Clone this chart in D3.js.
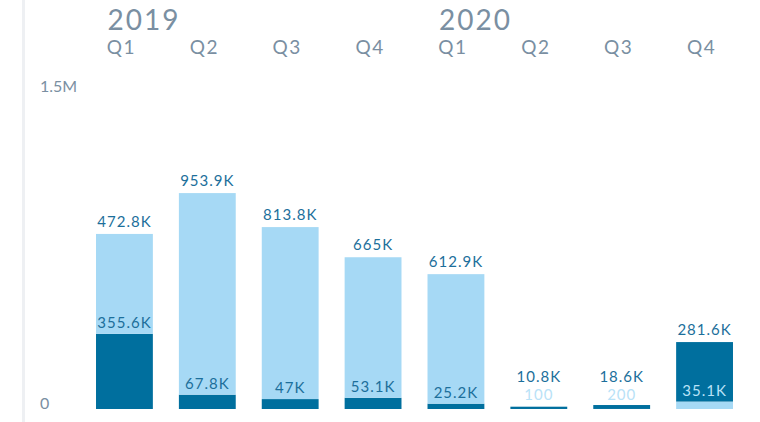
<!DOCTYPE html>
<html>
<head>
<meta charset="utf-8">
<script src="https://cdn.jsdelivr.net/npm/d3@7"></script>
<style>
  body { margin: 0; background: #fff; }
  svg { font-family: "Lato", "Open Sans", sans-serif; }
</style>
</head>
<body>
<div id="chart"></div>
<script>
// 데이터
const years = ["2019", "2020"];
const quarters = ["Q1", "Q2", "Q3", "Q4"];
const periods = ["2019-Q1", "2019-Q2", "2019-Q3", "2019-Q4", "2020-Q1", "2020-Q2", "2020-Q3", "2020-Q4"];
const darkValues = [355600, 67800, 47000, 53100, 25200, 10800, 18600, 281600];
const lightValues = [472800, 953900, 813800, 665000, 612900, 100, 200, 35100];
const yTicks = [0, 1500000];
const yTickLabels = ["0", "1.5M"];

const width = 760, height = 422;
const darkColor = "#006f9e", lightColor = "#a6d9f5";
const textDark = "#1c6f9b", axisGray = "#7a8fa2";

const svg = d3.select("#chart").append("svg")
  .attr("width", width)
  .attr("height", height);

const x = d3.scaleBand().domain(periods).range([83, 746])
  .paddingInner(0.314).paddingOuter(0.157);
const y = d3.scaleLinear().domain([0, 1500000]).range([409, 92]);

const fmt = v => v >= 1000 ? d3.format(".4~s")(v).replace("k", "K") : String(v);

// 왼쪽 세로선
svg.append("line")
  .attr("x1", 23.5).attr("x2", 23.5)
  .attr("y1", 0).attr("y2", height)
  .attr("stroke", "#eef0f3").attr("stroke-width", 3);

// y축 라벨
svg.selectAll(".ytick")
  .data(yTicks)
  .enter().append("text")
  .attr("x", 40)
  .attr("y", d => y(d))
  .attr("font-size", "16px")
  .attr("fill", axisGray)
  .text((d, i) => yTickLabels[i]);

// 분기별 데이터 (작은 값이 아래)
const data = periods.map((p, i) => {
  const segs = [
    { value: darkValues[i], color: darkColor },
    { value: lightValues[i], color: lightColor }
  ].sort((a, b) => a.value - b.value);
  return { period: p, year: p.slice(0, 4), quarter: p.slice(5), segs };
});

data.forEach(d => {
  const x0 = x(d.period), bw = x.bandwidth();
  let acc = 0;
  d.segs.forEach(s => { s.y0 = acc; acc += s.value; s.y1 = acc; });

  const g = svg.append("g");
  g.selectAll("rect")
    .data(d.segs)
    .enter().append("rect")
    .attr("x", x0)
    .attr("width", bw)
    .attr("y", s => y(s.y1))
    .attr("height", s => y(s.y0) - y(s.y1))
    .attr("fill", s => s.color);

  const low = d.segs[0], high = d.segs[1];
  const lowY = Math.min(y(low.y1) - 6, 400);
  const highY = Math.min(y(high.y1) - 7, lowY - 18);

  g.append("text")
    .attr("x", x0 + bw / 2).attr("y", lowY)
    .attr("text-anchor", "middle")
    .attr("font-size", "15px")
    .attr("letter-spacing", "1px")
    .attr("fill", low.color === darkColor ? textDark : "#b9e2f7")
    .text(fmt(low.value));

  g.append("text")
    .attr("x", x0 + bw / 2).attr("y", highY)
    .attr("text-anchor", "middle")
    .attr("font-size", "15px")
    .attr("letter-spacing", "1px")
    .attr("fill", textDark)
    .text(fmt(high.value));

  // 분기 라벨
  svg.append("text")
    .attr("x", x0 + bw / 2 - 3).attr("y", 54)
    .attr("text-anchor", "middle")
    .attr("font-size", "19px")
    .attr("letter-spacing", "1.5px")
    .attr("fill", axisGray)
    .text(d.quarter);
});

// 연도 라벨
svg.selectAll(".year")
  .data(years)
  .enter().append("text")
  .attr("x", yr => x(yr + "-Q1") + x.bandwidth() / 2 - 17)
  .attr("y", 30)
  .attr("font-size", "28px")
  .attr("letter-spacing", "2px")
  .attr("fill", axisGray)
  .text(yr => yr);
</script>
</body>
</html>
